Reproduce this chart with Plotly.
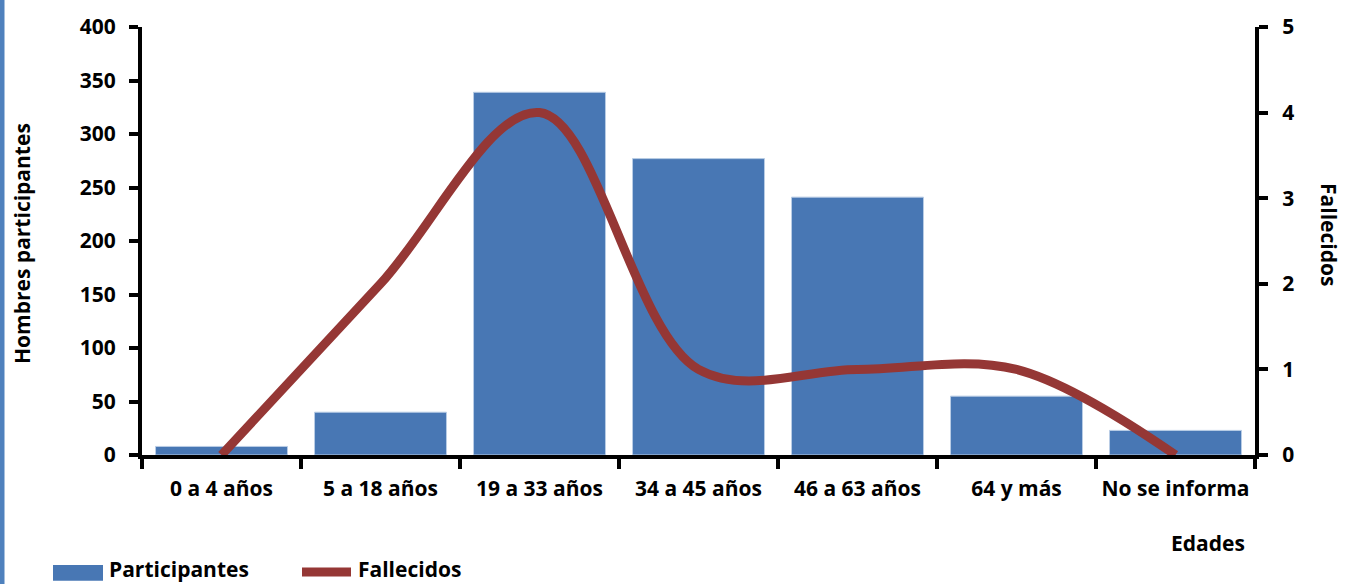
import plotly.graph_objects as go

# Datos
edades = ["0 a 4 años", "5 a 18 años", "19 a 33 años", "34 a 45 años",
          "46 a 63 años", "64 y más", "No se informa"]
participantes = [8, 40, 339, 277, 241, 55, 23]
fallecidos = [0, 2, 4, 1, 1, 1, 0]

font_main = "Open Sans, sans-serif"
bar_color = "#4877B4"
line_color = "#953735"

fig = go.Figure()

fig.add_trace(go.Bar(
    x=edades, y=participantes, name="Participantes",
    marker=dict(color=bar_color, line=dict(color="#B9CDE5", width=1)),
    yaxis="y", showlegend=False
))

fig.add_trace(go.Scatter(
    x=edades, y=fallecidos, name="Fallecidos", mode="lines",
    line=dict(color=line_color, width=9, shape="spline", smoothing=1.0),
    yaxis="y2", showlegend=False
))

axis_font = dict(family=font_main, size=21, color="black", weight=700)


def px_x(p):
    # pixel -> paper x
    return (p - 142) / 1113


def px_y(p):
    # pixel -> paper y
    return (455 - p) / 432


fig.update_layout(
    width=1345, height=584,
    margin=dict(l=142, r=90, t=23, b=129),
    paper_bgcolor="white", plot_bgcolor="white",
    bargap=0.17,
    xaxis=dict(
        showline=True, linecolor="black", linewidth=4, tickangle=0,
        ticks="outside", tickson="boundaries", ticklen=10, tickwidth=4, tickcolor="black",
        tickfont=axis_font, showgrid=False, zeroline=False, ticklabelstandoff=12
    ),
    yaxis=dict(
        range=[0, 400], dtick=50, showline=True, linecolor="black", linewidth=4,
        ticks="outside", ticklen=9, tickwidth=4, tickcolor="black",
        tickfont=axis_font, showgrid=False, zeroline=False, ticklabelstandoff=9
    ),
    yaxis2=dict(
        range=[0, 5], dtick=1, overlaying="y", side="right",
        showline=True, linecolor="black", linewidth=4,
        ticks="outside", ticklen=9, tickwidth=4, tickcolor="black",
        tickfont=axis_font, showgrid=False, zeroline=False, ticklabelstandoff=10
    ),
    annotations=[
        dict(text="Hombres participantes", xref="paper", yref="paper",
             x=px_x(22), y=px_y(242), xanchor="center", yanchor="middle",
             textangle=-90, showarrow=False, font=axis_font),
        dict(text="Fallecidos", xref="paper", yref="paper",
             x=px_x(1329), y=px_y(232), xanchor="center", yanchor="middle",
             textangle=90, showarrow=False, font=axis_font),
        dict(text="Edades", xref="paper", yref="paper",
             x=px_x(1208), y=px_y(544), xanchor="center", yanchor="middle",
             showarrow=False, font=axis_font),
        # leyenda
        dict(text="Participantes", xref="paper", yref="paper",
             x=px_x(107), y=px_y(570), xanchor="left", yanchor="middle",
             showarrow=False, font=axis_font),
        dict(text="Fallecidos", xref="paper", yref="paper",
             x=px_x(356), y=px_y(570), xanchor="left", yanchor="middle",
             showarrow=False, font=axis_font),
    ],
    shapes=[
        dict(type="line", xref="paper", yref="paper",
             x0=px_x(2), x1=px_x(2), y0=px_y(590), y1=px_y(-5),
             line=dict(color="#4F81BD", width=5)),
        dict(type="rect", xref="paper", yref="paper",
             x0=px_x(53), x1=px_x(103), y0=px_y(582), y1=px_y(566),
             fillcolor=bar_color, line=dict(width=0)),
        dict(type="line", xref="paper", yref="paper",
             x0=px_x(302), x1=px_x(351), y0=px_y(573), y1=px_y(573),
             line=dict(color=line_color, width=9)),
    ],
)

fig.write_html("out.html", config={"displayModeBar": False},
               post_script="document.body.style.margin='0';")
